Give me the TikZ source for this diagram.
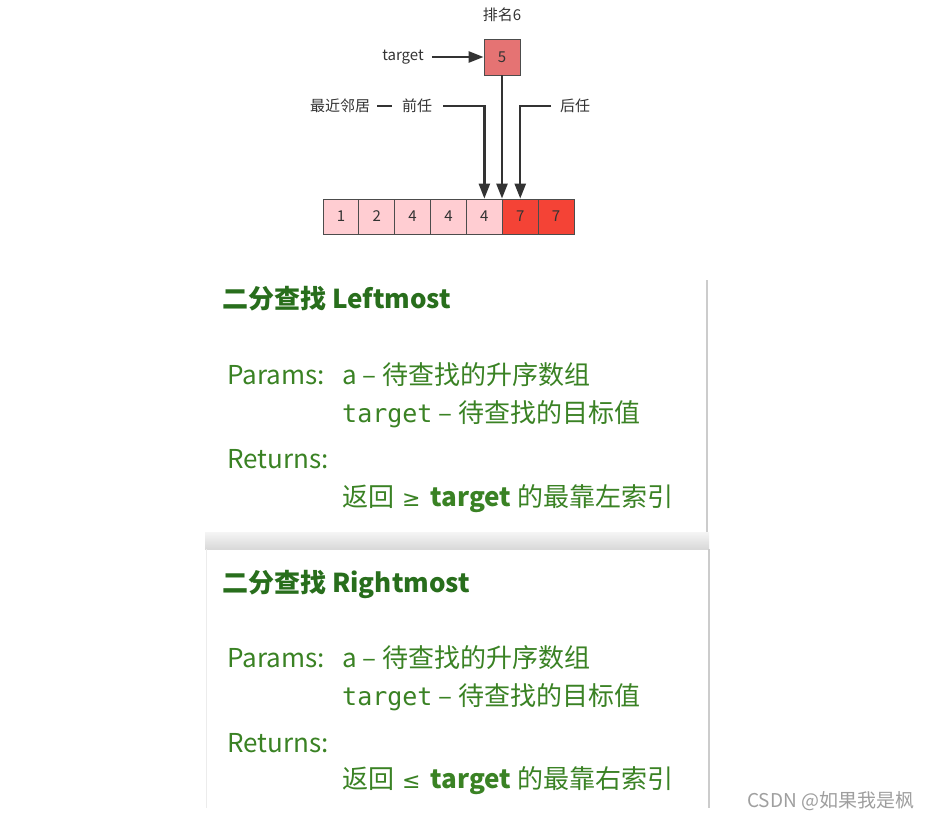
\documentclass[tikz,border=0pt]{standalone}
\usepackage{fontspec}
\setmainfont{Noto Sans CJK SC}
\newfontfamily\monof{DejaVu Sans Mono}
\newfontfamily\symf{DejaVu Sans}
\usetikzlibrary{arrows.meta}
\definecolor{linegray}{RGB}{51,51,51}
\definecolor{lightpink}{RGB}{255,205,210}
\definecolor{redcell}{RGB}{244,67,54}
\definecolor{boxred}{RGB}{229,115,115}
\definecolor{titlegreen}{RGB}{40,110,28}
\definecolor{bodygreen}{RGB}{58,130,36}
\begin{document}
\begin{tikzpicture}[x=1pt,y=-1pt,
  lbl/.style={font=\fontsize{15}{18}\selectfont, text=black!80, inner sep=0},
  cell/.style={draw=black!70, line width=0.8pt, minimum width=35.86pt, minimum height=35pt, inner sep=0, font=\fontsize{15}{18}\selectfont, text=black!80},
  conn/.style={draw=linegray, line width=2.5pt, -{Triangle[length=15pt,width=11pt]}},
  ttl/.style={font=\fontsize{26}{30}\selectfont\bfseries, text=titlegreen, anchor=base west, inner sep=0},
  body/.style={font=\fontsize{26}{30}\selectfont, text=bodygreen, anchor=base west, inner sep=0},
  shadowline/.style={draw=gray!40, line width=2.5pt}]
\useasboundingbox (0,0) rectangle (933,822);
\fill[white] (0,0) rectangle (933,822);

% top diagram
\node[lbl] (rank) at (502,15) {排名6};
\node[cell, fill=boxred, minimum width=36pt, minimum height=36pt] (b5) at (502,57) {5};
\node[lbl] (tgt) at (403,57) {target};
\foreach \i/\v/\c in {1/1/lightpink,2/2/lightpink,3/4/lightpink,4/4/lightpink,5/4/lightpink,6/7/redcell,7/7/redcell}{
  \node[cell, fill=\c] (c\i) at ({323+35.86*(\i-0.5)},216.5) {\v};
}
\node[lbl] (neigh) at (340,106) {最近邻居};
\node[lbl] (dash) at (384.5,106) {\textcolor{linegray}{\rule{15pt}{2.5pt}}};
\node[lbl] (prev) at (417,106) {前任};
\node[lbl] (succ) at (575,106) {后任};
\coordinate (pstart) at (443,106);
\coordinate (sstart) at (551,106);
\draw[conn] ([xshift=8pt]tgt.east) -- (b5.west);
\draw[conn] (b5.south) -- (b5.south |- c6.north);
\draw[conn] (pstart) -| (c5.north);
\draw[conn] (sstart) -| (c6.north);

% panel shadows
\draw[shadowline] (707,280) -- (707,532);
\shade[top color=gray!8, bottom color=gray!30] (205,532) rectangle (709,549);
\draw[shadowline] (709,549) -- (709,808);
\draw[gray!15, line width=1pt] (206,549) -- (206,808);

% panel 1
\node[ttl] (t1) at (222,308) {二分查找 Leftmost};
\node[body] (p1) at (227,384) {Params:};
\node[body] (a1) at (342,384) {a – 待查找的升序数组};
\node[body] (g1) at (342,422) {{\monof\fontsize{25}{30}\selectfont target} – 待查找的目标值};
\node[body] (r1) at (227,468) {Returns:};
\node[body] (v1) at (342,506) {返回\hspace{8pt}{\symf\fontsize{22}{30}\selectfont ≥}\hspace{10pt}{\bfseries target}\hspace{6pt}的最靠左索引};

% panel 2
\node[ttl] (t2) at (222,592) {二分查找 Rightmost};
\node[body] (p2) at (227,667) {Params:};
\node[body] (a2) at (342,667) {a – 待查找的升序数组};
\node[body] (g2) at (342,705) {{\monof\fontsize{25}{30}\selectfont target} – 待查找的目标值};
\node[body] (r2) at (227,752) {Returns:};
\node[body] (v2) at (342,788) {返回\hspace{8pt}{\symf\fontsize{22}{30}\selectfont ≤}\hspace{10pt}{\bfseries target}\hspace{6pt}的最靠右索引};

% watermark
\node[font=\fontsize{19}{22}\selectfont, text=gray!75, anchor=base west, inner sep=0] (wm) at (747,807) {CSDN @如果我是枫};
\end{tikzpicture}
\end{document}
